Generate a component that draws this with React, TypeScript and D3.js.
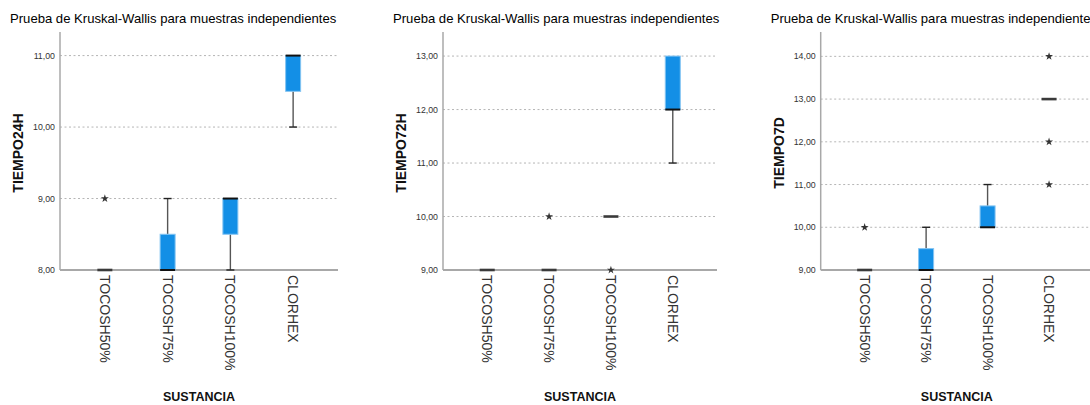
import React from 'react';
import * as d3 from 'd3';

const categories = ['TOCOSH50%', 'TOCOSH75%', 'TOCOSH100%', 'CLORHEX'];

// TIEMPO24H
const q1_24h = [8, 8, 8.5, 10.5];
const med_24h = [8, 8, 9, 11];
const q3_24h = [8, 8.5, 9, 11];
const lo_24h = [8, 8, 8, 10];
const hi_24h = [8, 9, 9, 11];
const out_24h = [[9], [], [], []];
const ticks_24h = [8, 9, 10, 11];

// TIEMPO72H
const q1_72h = [9, 9, 10, 12];
const med_72h = [9, 9, 10, 12];
const q3_72h = [9, 9, 10, 13];
const lo_72h = [9, 9, 10, 11];
const hi_72h = [9, 9, 10, 13];
const out_72h = [[], [10], [9], []];
const ticks_72h = [9, 10, 11, 12, 13];

// TIEMPO7D
const q1_7d = [9, 9, 10, 13];
const med_7d = [9, 9, 10, 13];
const q3_7d = [9, 9.5, 10.5, 13];
const lo_7d = [9, 9, 10, 13];
const hi_7d = [9, 10, 11, 13];
const out_7d = [[10], [], [], [14, 12, 11]];
const ticks_7d = [9, 10, 11, 12, 13, 14];

const TITLE = 'Prueba de Kruskal-Wallis para muestras independientes';
const FONT = '"Liberation Sans", Arial, sans-serif';

interface PanelProps {
  left: number;
  right: number;
  yLabel: string;
  yMax: number;
  ticks: number[];
  q1: number[];
  med: number[];
  q3: number[];
  lo: number[];
  hi: number[];
  out: number[][];
}

const top = 32;
const bottom = 270;
const boxW = 15;
const capW = 8;
const fmt = (v: number) => v.toFixed(2).replace('.', ',');

function Panel({ left, right, yLabel, yMax, ticks, q1, med, q3, lo, hi, out }: PanelProps) {
  const x = d3.scalePoint<string>().domain(categories).range([left, right]).padding(0.715);
  const y = d3.scaleLinear().domain([ticks[0], yMax]).range([bottom, top]);
  const star = d3.symbol().type(d3.symbolStar).size(20)();

  return (
    <g>
      <text x={left - 50} y={23} fontSize={13.1} fill="#000">{TITLE}</text>

      {/* grid */}
      {ticks.slice(1).map(t => (
        <line key={'g' + t} x1={left} x2={right} y1={y(t)} y2={y(t)}
          stroke="#b5b5b5" strokeWidth={1} strokeDasharray="2,2.5" />
      ))}

      {/* y tick labels */}
      {ticks.map(t => (
        <text key={'t' + t} x={left - 5} y={y(t)} dy="0.35em" textAnchor="end"
          fontSize={8.8} fill="#333">{fmt(t)}</text>
      ))}

      {/* axes */}
      <line x1={left} x2={left} y1={top} y2={bottom} stroke="#a8a8a8" strokeWidth={1.5} />
      <line x1={left} x2={right} y1={bottom} y2={bottom} stroke="#a8a8a8" strokeWidth={2} />

      {/* boxes */}
      {categories.map((c, i) => {
        const cx = x(c) ?? 0;
        const degenerate = q1[i] === q3[i];
        return (
          <g key={c}>
            {hi[i] > q3[i] && (
              <>
                <line x1={cx} x2={cx} y1={y(q3[i])} y2={y(hi[i])} stroke="#555" strokeWidth={1.4} />
                <line x1={cx - capW / 2} x2={cx + capW / 2} y1={y(hi[i])} y2={y(hi[i])} stroke="#222" strokeWidth={1.4} />
              </>
            )}
            {lo[i] < q1[i] && (
              <>
                <line x1={cx} x2={cx} y1={y(q1[i])} y2={y(lo[i])} stroke="#555" strokeWidth={1.4} />
                <line x1={cx - capW / 2} x2={cx + capW / 2} y1={y(lo[i])} y2={y(lo[i])} stroke="#222" strokeWidth={1.4} />
              </>
            )}
            {!degenerate && (
              <rect x={cx - boxW / 2} y={y(q3[i])} width={boxW} height={y(q1[i]) - y(q3[i])}
                fill="#138fe6" stroke="#84c4f2" strokeWidth={1} />
            )}
            <line x1={cx - boxW / 2} x2={cx + boxW / 2} y1={y(med[i])} y2={y(med[i])}
              stroke={degenerate ? '#3a3a3a' : '#111'} strokeWidth={degenerate ? 2.6 : 2} />
            {out[i].map(v => (
              <path key={v} d={star ?? ''} transform={`translate(${cx},${y(v)})`} fill="#333" />
            ))}
          </g>
        );
      })}

      {/* x tick labels */}
      {categories.map(c => (
        <text key={'x' + c} transform={`translate(${x(c)},275) rotate(90)`}
          dominantBaseline="central" fontSize={14} fill="#333">{c}</text>
      ))}

      <text x={(left + right) / 2} y={401} textAnchor="middle" fontSize={12.5}
        fontWeight="bold" fill="#111">SUSTANCIA</text>
      <text transform={`translate(${left - 42},${(top + bottom) / 2 + 2}) rotate(-90)`}
        textAnchor="middle" dominantBaseline="central" fontSize={14} fontWeight="bold" fill="#111">
        {yLabel}
      </text>
    </g>
  );
}

export default function App() {
  return (
    <div style={{ position: 'fixed', left: 0, top: 0 }}>
      <svg width={1090} height={405} style={{ display: 'block', background: '#fff', fontFamily: FONT }}>
        <Panel left={60} right={338} yLabel="TIEMPO24H" yMax={11.33} ticks={ticks_24h}
          q1={q1_24h} med={med_24h} q3={q3_24h} lo={lo_24h} hi={hi_24h} out={out_24h} />
        <Panel left={443} right={717} yLabel="TIEMPO72H" yMax={13.45} ticks={ticks_72h}
          q1={q1_72h} med={med_72h} q3={q3_72h} lo={lo_72h} hi={hi_72h} out={out_72h} />
        <Panel left={820.7} right={1093} yLabel="TIEMPO7D" yMax={14.57} ticks={ticks_7d}
          q1={q1_7d} med={med_7d} q3={q3_7d} lo={lo_7d} hi={hi_7d} out={out_7d} />
      </svg>
    </div>
  );
}
